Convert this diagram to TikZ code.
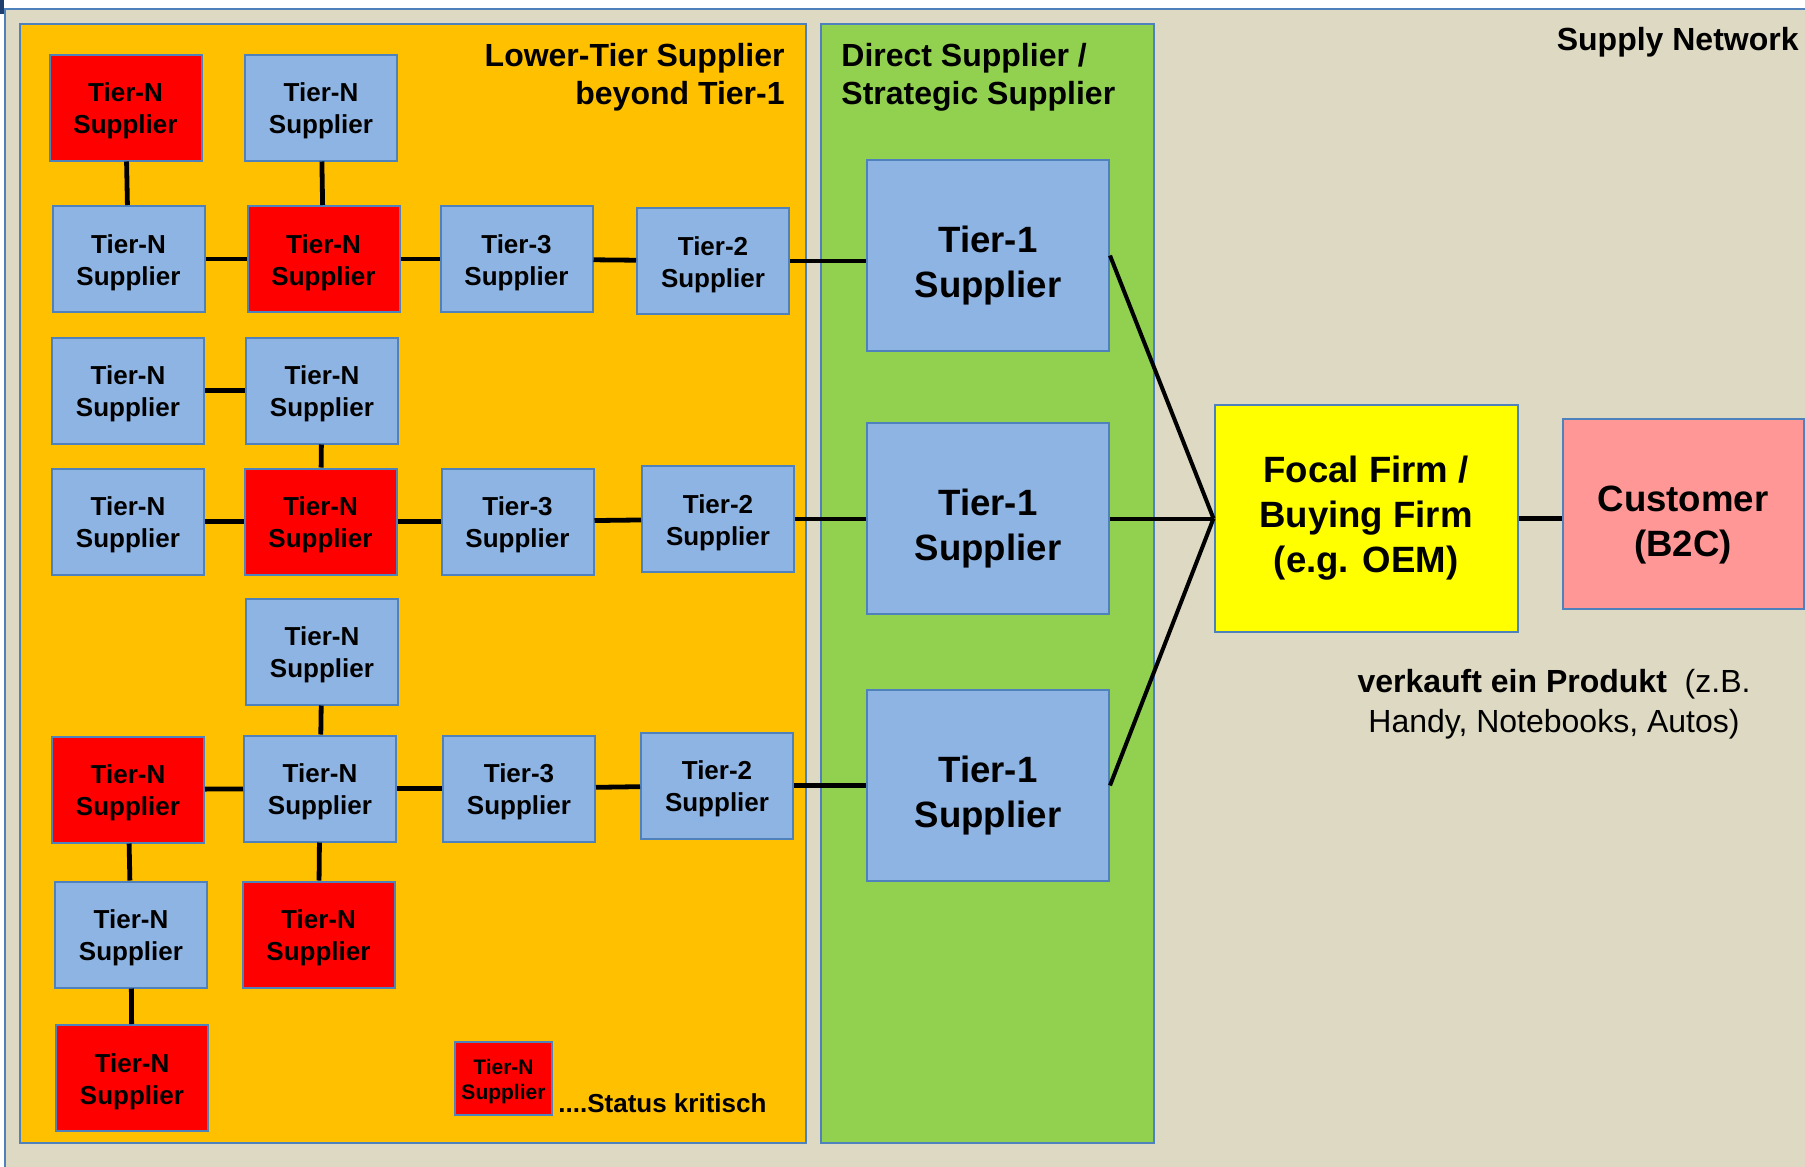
\documentclass[tikz,border=0pt]{standalone}
\usepackage{fontspec}
\setmainfont{Liberation Sans}
\usepackage{tikz}
\definecolor{tierblue}{HTML}{8EB4E3}
\definecolor{critred}{HTML}{FF0000}
\definecolor{lowerorange}{HTML}{FFC000}
\definecolor{directgreen}{HTML}{92D050}
\definecolor{netbeige}{HTML}{DDD9C3}
\definecolor{focalyellow}{HTML}{FFFF00}
\definecolor{custpink}{HTML}{FF9797}
\definecolor{edgeblue}{HTML}{4F81BD}
\definecolor{cornerblue}{HTML}{1F3F6F}
% box labels, with a strut that sets the text a little lower
\newcommand{\tiertext}[1]{\rule{0pt}{12.8pt}Tier-#1\\Supplier}
\newcommand{\firsttext}{\rule{0pt}{23.5pt}Tier-1\\Supplier}

\begin{document}
\begin{tikzpicture}[x=0.5pt, y=-0.5pt,
  tierbox/.style={draw=edgeblue, line width=1pt, fill=tierblue, minimum width=76pt,
    minimum height=53pt, inner sep=0pt, align=center,
    font=\fontsize{13}{16}\selectfont\bfseries},
  critbox/.style={tierbox, fill=critred},
  firstbox/.style={tierbox, minimum width=121pt, minimum height=95.5pt,
    font=\fontsize{18.3}{22.5}\selectfont\bfseries},
  headtext/.style={inner sep=0pt, align=#1, font=\fontsize{16}{19}\selectfont\bfseries},
  link/.style={line width=2.4pt},
  focallink/.style={line width=2pt}]

  \useasboundingbox (0,0) rectangle (1805,1167);
  \fill[white] (0,0) rectangle (1805,1167);

  % ================= SUPPLY NETWORK BACKGROUND =================
  \filldraw[fill=netbeige, draw=edgeblue, line width=1pt] (4.5,9) rectangle (1815,1180);
  \fill[cornerblue] (0,0) rectangle (4,14);
  \node[headtext=right, anchor=base east] (nettitle) at (1799,50) {Supply Network};

  % Lower tier area
  \filldraw[fill=lowerorange, draw=edgeblue, line width=1pt] (20,24) rectangle (806,1143);
  \node[headtext=right, anchor=north east] (lowertitle) at (785,42.5)
    {Lower-Tier Supplier\\beyond Tier-1};

  % Direct supplier area
  \filldraw[fill=directgreen, draw=edgeblue, line width=1pt] (821,24) rectangle (1154,1143);
  \node[headtext=left, anchor=north west] (directtitle) at (841,42.5)
    {Direct Supplier /\\Strategic Supplier};

  % ================= TIER-N SUPPLIERS =================
  \node[critbox] (na) at (125.5,107.5) {\tiertext{N}};
  \node[tierbox] (nb) at (321,107.5) {\tiertext{N}};
  \node[tierbox] (nc) at (128.5,259) {\tiertext{N}};
  \node[critbox] (nd) at (323.5,259) {\tiertext{N}};
  \node[tierbox] (ne) at (128,390.5) {\tiertext{N}};
  \node[tierbox] (nf) at (322,390.5) {\tiertext{N}};
  \node[tierbox] (ng) at (128,521.5) {\tiertext{N}};
  \node[critbox] (nh) at (320.5,521.5) {\tiertext{N}};
  \node[tierbox] (ni) at (322,651.5) {\tiertext{N}};
  \node[critbox] (nj) at (128,789.5) {\tiertext{N}};
  \node[tierbox] (nk) at (320,788.5) {\tiertext{N}};
  \node[tierbox] (nl) at (131,934.5) {\tiertext{N}};
  \node[critbox] (nm) at (318.5,934.5) {\tiertext{N}};
  \node[critbox] (nn) at (132,1078) {\tiertext{N}};

  % Tier-3 and Tier-2
  \node[tierbox] (t3a) at (516.5,259) {\tiertext{3}};
  \node[tierbox] (t2a) at (713,261) {\tiertext{2}};
  \node[tierbox] (t3b) at (517.5,521.5) {\tiertext{3}};
  \node[tierbox] (t2b) at (718,519) {\tiertext{2}};
  \node[tierbox] (t3c) at (519,788.5) {\tiertext{3}};
  \node[tierbox] (t2c) at (717,785.5) {\tiertext{2}};

  % Tier-1
  \node[firstbox] (t1a) at (988,255.5) {\firsttext};
  \node[firstbox] (t1b) at (988,518.5) {\firsttext};
  \node[firstbox] (t1c) at (988,785.5) {\firsttext};

  % Focal firm and customer
  \node[tierbox, fill=focalyellow, minimum width=151.5pt, minimum height=113.5pt,
    font=\fontsize{18.3}{22.5}\selectfont\bfseries]
    (focal) at (1366,518.5) {Focal Firm /\\Buying Firm\\(e.g. OEM)};
  \node[tierbox, fill=custpink, minimum width=120.5pt, minimum height=95pt,
    font=\fontsize{18.3}{22.5}\selectfont\bfseries] (cust) at (1683,514)
    {\rule{0pt}{23.7pt}Customer\\(B2C)};
  \node[inner sep=0pt, align=center, anchor=north, font=\fontsize{16}{20}\selectfont]
    (sells) at (1554,668.7)
    {\textbf{verkauft ein Produkt}\ \ (z.B.\\Handy, Notebooks, Autos)};

  % Legend
  \node[critbox, minimum width=48.5pt, minimum height=36.5pt,
    font=\fontsize{10.5}{12.5}\selectfont\bfseries] (legend) at (503.5,1078.5)
    {\rule{0pt}{10.6pt}Tier-N\\Supplier};
  \node[inner sep=0pt, anchor=base west, font=\fontsize{13}{16}\selectfont\bfseries]
    (legendtext) at (558,1112.5) {....Status kritisch};

  % ================= CONNECTIONS =================
  \draw[link] (na) -- (nc);
  \draw[link] (nb) -- (nd);
  \draw[link] (nc) -- (nd);
  \draw[link] (nd) -- (t3a);
  \draw[link] (t3a) -- (t2a);
  \draw[link] (t2a) -- (t2a -| t1a.west);

  \draw[link] (ne) -- (nf);
  \draw[link] (nf) -- (nh);
  \draw[link] (ng) -- (nh);
  \draw[link] (nh) -- (t3b);
  \draw[link] (t3b) -- (t2b);
  \draw[link] (t2b) -- (t2b -| t1b.west);

  \draw[link] (ni) -- (nk);
  \draw[link] (nj) -- (nk);
  \draw[link] (nk) -- (t3c);
  \draw[link] (t3c) -- (t2c);
  \draw[link] (t2c) -- (t2c -| t1c.west);
  \draw[link] (nj) -- (nl);
  \draw[link] (nk) -- (nm);
  \draw[link] (nl) -- (nn);

  \draw[focallink] (t1a.east) -- (focal.west);
  \draw[focallink] (t1b.east) -- (focal.west);
  \draw[focallink] (t1c.east) -- (focal.west);
  \draw[link] (focal) -- (focal -| cust.west);

\end{tikzpicture}
\end{document}
